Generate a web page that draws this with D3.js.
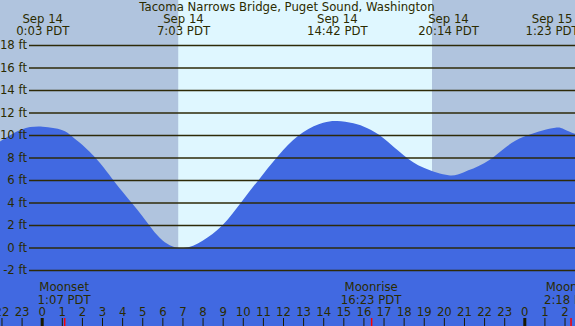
<!DOCTYPE html>
<html>
<head>
<meta charset="utf-8">
<script src="https://cdn.jsdelivr.net/npm/d3@7"></script>
<style>
    body { margin: 0; background: #fff; }
    svg { display: block; font-family: "DejaVu Sans", sans-serif; }
</style>
</head>
<body>
<div id="chart"></div>
<script>
// Station title
var title = "Tacoma Narrows Bridge, Puget Sound, Washington";

// Hours since Sep 14 0:00 PDT, heights in ft
var curveHours   = [-2.1, -1, 0.05, 1, 1.5, 2, 2.5, 3, 4, 5, 6, 7.05, 8, 9, 10, 11, 12, 13, 14, 14.7, 15.5, 16.2, 17, 18, 19, 20.23, 21, 22, 23, 24, 25.38, 26, 27];
var curveHeights = [9.4, 10.5, 10.74, 10.45, 9.9, 9.15, 8.3, 7.3, 5.0, 2.8, 0.65, -0.05, 0.6, 2.0, 4.2, 6.5, 8.65, 10.25, 11.08, 11.25, 11.04, 10.6, 9.72, 8.2, 7.08, 6.42, 6.7, 7.48, 8.8, 9.87, 10.6, 10.5, 9.75];

// High / low tide labels along the top
var tideHours = [0.05, 7.05, 14.7, 20.23, 25.38];
var tideDates = ["Sep 14", "Sep 14", "Sep 14", "Sep 14", "Sep 15"];
var tideTimes = ["0:03 PDT", "7:03 PDT", "14:42 PDT", "20:14 PDT", "1:23 PDT"];

// Sunrise / sunset (hours)
var sunrise = 6.79, sunset = 19.41;

// Moon events
var moonHours = [1.117, 16.383, 26.3];
var moonNames = ["Moonset", "Moonrise", "Moonset"];
var moonTimes = ["1:07 PDT", "16:23 PDT", "2:18 PDT"];

// Axis ticks
var feetTicks = [-2, 0, 2, 4, 6, 8, 10, 12, 14, 16, 18];
var hourTicks = d3.range(-2, 27);

var width = 575, height = 326;
var textColor = "#2b2b00", lineColor = "#2e2a08", fontSize = "11.7px";

var x = d3.scaleLinear().domain([0, 24]).range([41.7, 524.3]);
var y = d3.scaleLinear().domain([0, 18]).range([247.5, 45]);

var svg = d3.select("#chart").append("svg")
    .attr("width", width)
    .attr("height", height);

// Night / day background
svg.append("rect")
    .attr("width", width).attr("height", height)
    .attr("fill", "#b0c4de");
svg.append("rect")
    .attr("x", x(sunrise)).attr("y", 0)
    .attr("width", x(sunset) - x(sunrise)).attr("height", height)
    .attr("fill", "#dff7ff");

// Water
var area = d3.area()
    .x(function (d) { return x(d[0]); })
    .y0(height)
    .y1(function (d) { return y(d[1]); })
    .curve(d3.curveNatural);
svg.append("path")
    .datum(curveHours.map(function (h, i) { return [h, curveHeights[i]]; }))
    .attr("d", area)
    .attr("fill", "#4169e1");

// Gridlines with ft labels
var yAxis = svg.append("g")
    .attr("transform", "translate(" + width + ",0)")
    .call(d3.axisLeft(y)
        .tickValues(feetTicks)
        .tickSize(width - 29)
        .tickPadding(2)
        .tickFormat(function (d) { return d + " ft"; }));
yAxis.select(".domain").remove();
yAxis.selectAll("line").attr("stroke", lineColor).attr("stroke-width", 1.3);
yAxis.selectAll("text")
    .attr("fill", textColor)
    .style("font-size", fontSize)
    .style("font-family", "DejaVu Sans");

// Hour axis at the bottom
var xAxis = svg.append("g")
    .attr("transform", "translate(0," + height + ")")
    .call(d3.axisTop(x)
        .tickValues(hourTicks)
        .tickSize(8)
        .tickPadding(2)
        .tickFormat(function (d) { return ((d % 24) + 24) % 24; }));
xAxis.select(".domain").remove();
xAxis.selectAll("line")
    .attr("stroke", "#1a1a00")
    .attr("stroke-width", function (d) { return d % 24 === 0 ? 3 : 1; });
xAxis.selectAll("text")
    .attr("fill", textColor)
    .style("font-size", fontSize)
    .style("font-family", "DejaVu Sans");

// Moon event ticks
svg.selectAll(".moontick")
    .data(moonHours)
    .enter().append("line")
    .attr("class", "moontick")
    .attr("x1", function (d) { return x(d) + 0.5; })
    .attr("x2", function (d) { return x(d) + 0.5; })
    .attr("y1", height - 8).attr("y2", height)
    .attr("stroke", "#ff0000")
    .attr("stroke-width", 1.5);

// Two-line labels as separate text rows
function labelRow(cls, hours, texts, yPos) {
    svg.selectAll("." + cls)
        .data(hours)
        .enter().append("text")
        .attr("class", cls)
        .attr("x", function (d) { return x(d); })
        .attr("y", yPos)
        .attr("text-anchor", "middle")
        .attr("fill", textColor)
        .style("font-size", fontSize)
        .text(function (d, i) { return texts[i]; });
}

// Moon labels
labelRow("moonname", moonHours, moonNames, 291);
labelRow("moontime", moonHours, moonTimes, 303.5);

// Tide labels at the top
labelRow("tidedate", tideHours, tideDates, 23.3);
labelRow("tidetime", tideHours, tideTimes, 35.2);

// Title
svg.append("text")
    .attr("x", 287)
    .attr("y", 11)
    .attr("text-anchor", "middle")
    .attr("fill", textColor)
    .style("font-size", fontSize)
    .text(title);
</script>
</body>
</html>
